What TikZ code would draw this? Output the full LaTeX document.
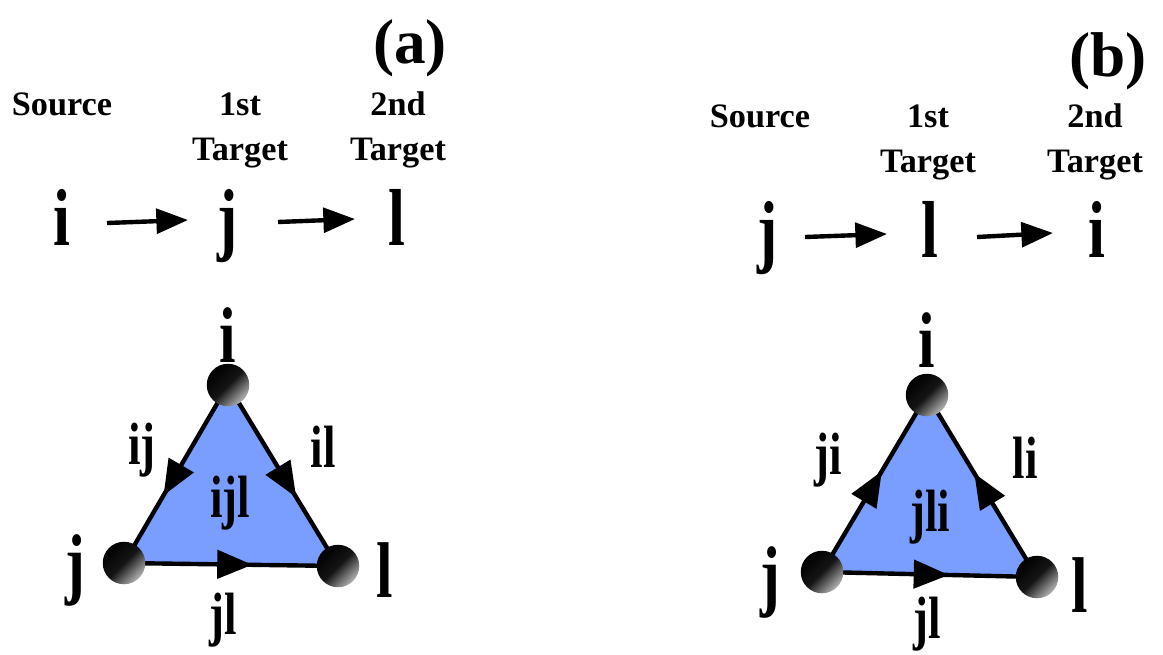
\documentclass[tikz,border=0pt]{standalone}
\usepackage{fontspec}
\setmainfont{Liberation Serif}
\newfontfamily\tallfont[FakeStretch=0.75]{Liberation Serif}
\usetikzlibrary{arrows.meta, decorations.markings, calc}
\definecolor{facecol}{RGB}{122,158,255}
\tikzset{
  hdr/.style={font=\bfseries\fontsize{19.5}{19.5}\selectfont, inner sep=0pt, anchor=base},
  paneltag/.style={font=\bfseries\fontsize{36}{36}\selectfont, inner sep=0pt, anchor=base},
  vtx/.style={font=\tallfont\bfseries\fontsize{45}{45}\selectfont, inner sep=0pt},
  seqlbl/.style={font=\tallfont\bfseries\fontsize{46}{46}\selectfont, inner sep=0pt, anchor=base},
  elabel/.style={font=\tallfont\bfseries\fontsize{34}{34}\selectfont, inner sep=0pt},
  flowarrow/.style={line width=2.5pt, -{Triangle[length=18pt,width=14pt]}},
  ballnode/.style={circle, minimum size=0.85cm, inner sep=0pt, top color=black, bottom color=black!30, middle color=black!92, shading angle=45},
  sidearrow/.style={line width=2.5pt, postaction={decorate}, decoration={markings, mark=at position #1 with {\arrow{Triangle[length=20pt,width=16pt]}}}},
}
\begin{document}
\begin{tikzpicture}[x=0.02cm, y=-0.02cm]
    \useasboundingbox (0,0) rectangle (1163,654);

    % Panel (a): sequence
    \node[paneltag] (a-tag) at (410,63) {(a)};
    \node[hdr] (a-h1) at (62,115) {Source};
    \node[hdr] (a-h2) at (240,115) {1st};
    \node[hdr] (a-h2b) at (240,160) {Target};
    \node[hdr] (a-h3) at (398,115) {2nd};
    \node[hdr] (a-h3b) at (398,160) {Target};
    \node[seqlbl] (a-src) at (62,245) {i};
    \node[seqlbl] (a-fst) at (228,245) {j};
    \node[seqlbl] (a-snd) at (397,245) {l};
    \draw[flowarrow] ($(a-src.base)+(45,-22)$) -- ($(a-fst.base)+(-40,-25)$);
    \draw[flowarrow] ($(a-fst.base)+(50,-23)$) -- ($(a-snd.base)+(-42,-26)$);

    % Panel (a): triangle
    \coordinate (ai) at (228,385);
    \coordinate (aj) at (124,563);
    \coordinate (al) at (338,566);
    \fill[facecol] (ai) -- (aj) -- (al) -- cycle;
    \draw[sidearrow=0.62] (ai) -- (aj);
    \draw[sidearrow=0.62] (ai) -- (al);
    \draw[sidearrow=0.6] (aj) -- (al);
    \node[ballnode] (ai-b) at (ai) {};
    \node[ballnode] (aj-b) at (aj) {};
    \node[ballnode] (al-b) at (al) {};
    \node[vtx] (ai-t) at (228,335) {i};
    \node[vtx] (aj-t) at (75,570) {j};
    \node[vtx] (al-t) at (385,570) {l};
    \node[elabel] (a-ij) at (142,450) {ij};
    \node[elabel] (a-il) at (323,447) {il};
    \node[elabel] (a-ijl) at (230,503) {ijl};
    \node[elabel] (a-jl) at (223,620) {jl};

    % Panel (b): sequence
    \node[paneltag] (b-tag) at (1108,76) {(b)};
    \node[hdr] (b-h1) at (760,127) {Source};
    \node[hdr] (b-h2) at (928,127) {1st};
    \node[hdr] (b-h2b) at (928,172) {Target};
    \node[hdr] (b-h3) at (1095,127) {2nd};
    \node[hdr] (b-h3b) at (1095,172) {Target};
    \node[seqlbl] (b-src) at (768,257) {j};
    \node[seqlbl] (b-fst) at (930,257) {l};
    \node[seqlbl] (b-snd) at (1097,257) {i};
    \draw[flowarrow] ($(b-src.base)+(37,-20)$) -- ($(b-fst.base)+(-43,-23)$);
    \draw[flowarrow] ($(b-fst.base)+(47,-20)$) -- ($(b-snd.base)+(-44,-24)$);

    % Panel (b): triangle
    \coordinate (bi) at (927,395);
    \coordinate (bj) at (822,572);
    \coordinate (bl) at (1037,577);
    \fill[facecol] (bi) -- (bj) -- (bl) -- cycle;
    \draw[sidearrow=0.57] (bj) -- (bi);
    \draw[sidearrow=0.57] (bl) -- (bi);
    \draw[sidearrow=0.59] (bj) -- (bl);
    \node[ballnode] (bi-b) at (bi) {};
    \node[ballnode] (bj-b) at (bj) {};
    \node[ballnode] (bl-b) at (bl) {};
    \node[vtx] (bi-t) at (927,340) {i};
    \node[vtx] (bj-t) at (770,582) {j};
    \node[vtx] (bl-t) at (1080,585) {l};
    \node[elabel] (b-ji) at (828,460) {ji};
    \node[elabel] (b-li) at (1025,458) {li};
    \node[elabel] (b-jli) at (930,517) {jli};
    \node[elabel] (b-jl) at (927,624) {jl};
\end{tikzpicture}
\end{document}
